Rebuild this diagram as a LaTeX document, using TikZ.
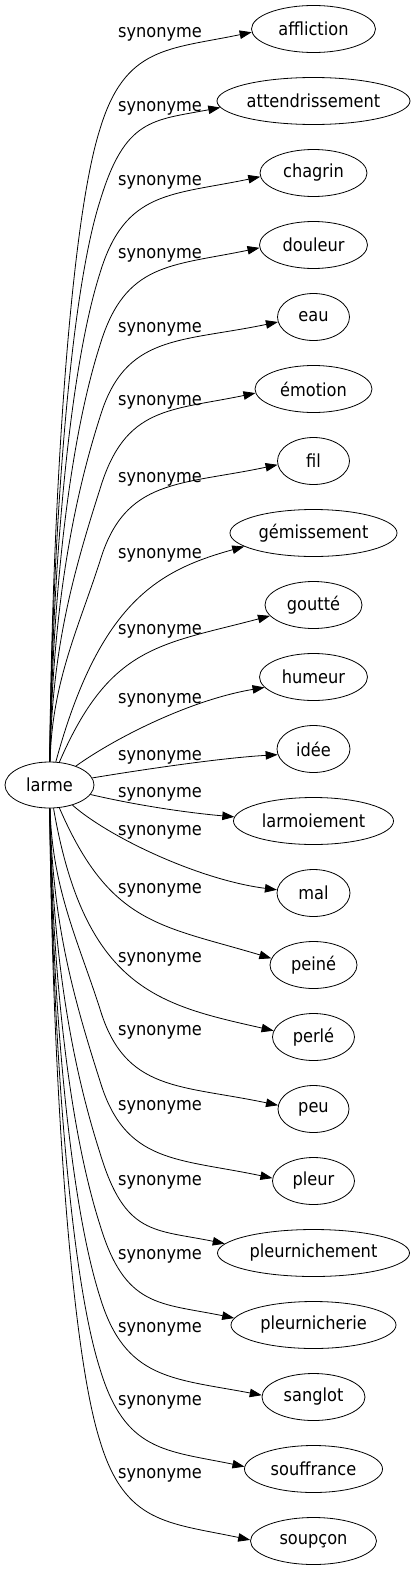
\documentclass[tikz,border=0pt]{standalone}
\usepackage{fontspec}
\setmainfont{DejaVu Sans}[FakeStretch=0.9]
\usetikzlibrary{shapes.geometric,arrows.meta}
\begin{document}
\begin{tikzpicture}[x=1pt,y=-1pt,
  word/.style={ellipse,draw,line width=0.8pt,inner sep=0pt,minimum height=47pt,font=\fontsize{18pt}{20pt}\selectfont},
  rel/.style={font=\fontsize{18pt}{20pt}\selectfont,anchor=base,inner sep=0pt},
  edge/.style={line width=0.8pt,-{Triangle[length=12pt,width=8.5pt]}}]
\useasboundingbox (0,0) rectangle (414,1571);
\node[word,minimum width=89pt,minimum height=46pt] (larme) at (49.5,785) {larme};
\foreach \n/\t/\y/\w in {affliction/affliction/29/124, attendrissement/attendrissement/101/193,
  chagrin/chagrin/173/107, douleur/douleur/245/108, eau/eau/317/72, emotion/émotion/389/117,
  fil/fil/461/72, gemissement/gémissement/533/167, goutte/goutté/605/97, humeur/humeur/677/108,
  idee/idée/749/73, larmoiement/larmoiement/821/160, mal/mal/893/73, peine/peiné/965/87,
  perle/perlé/1037/82, peu/peu/1109/71, pleur/pleur/1181/82, pleurnichement/pleurnichement/1253/192,
  pleurnicherie/pleurnicherie/1325/165, sanglot/sanglot/1397/103, souffrance/souffrance/1469/138,
  soupcon/soupçon/1541/126}
  \node[word,minimum width=\w pt] (\n) at (313.5,\y) {\t};
% labels
\foreach \k/\ly in {1/33,2/106,3/180,4/253,5/327,6/400,7/477,8/553,9/629,10/698,11/755,
  12/792,13/830,14/888,15/957,16/1030,17/1105,18/1180,19/1254,20/1327,21/1400,22/1473}
  \node[rel] (lab\k) at (160,\ly+5) {synonyme};
% upper far edges
\foreach \n/\y/\Ex/\Ey/\a in {affliction/29/252/32/183, attendrissement/101/217/107/184,
  chagrin/173/259/177/184, douleur/245/258/248/183, eau/317/277/322/188,
  emotion/389/255/393/184, fil/461/277/465/186} {
  \pgfmathsetmacro\Py{\y+100}
  \pgfmathsetmacro\L{762-\Py}
  \pgfmathsetmacro\be{min(100,0.35*\L)}
  \pgfmathsetmacro\Cax{100-0.305*\be}
  \pgfmathsetmacro\Cay{\Py+0.952*\be}
  \pgfmathsetmacro\Cby{762-0.4*\L}
  \pgfmathsetmacro\Dx{\Ex-0.55*(\Ex-100)}
  \pgfmathsetmacro\Dy{\Ey+0.21*0.55*(\Ex-100)}
  \draw[edge] (larme) .. controls (52,\Cby) and (\Cax,\Cay) .. (100,\Py)
    .. controls (125,\y+17) and (\Dx,\Dy) .. (\n.\a);
}
% lower far edges
\foreach \n/\y/\Ex/\Ey/\a in {peu/1109/277/1105/174,
  pleur/1181/272/1178/176, pleurnichement/1253/220/1243/174, pleurnicherie/1325/232/1318/175,
  sanglot/1397/262/1397/178, souffrance/1469/245/1467/178, soupcon/1541/251/1540/179} {
  \pgfmathsetmacro\Py{\y-100}
  \pgfmathsetmacro\L{\Py-808}
  \pgfmathsetmacro\be{min(100,0.35*\L)}
  \pgfmathsetmacro\Cax{100-0.305*\be}
  \pgfmathsetmacro\Cay{\Py-0.952*\be}
  \pgfmathsetmacro\Cby{808+0.4*\L}
  \pgfmathsetmacro\Dx{\Ex-0.55*(\Ex-100)}
  \pgfmathsetmacro\Dy{\Ey-0.21*0.55*(\Ex-100)}
  \draw[edge] (larme) .. controls (52,\Cby) and (\Cax,\Cay) .. (100,\Py)
    .. controls (125,\y-17) and (\Dx,\Dy) .. (\n.\a);
}
% near edges
\draw[edge] (larme) .. controls (100,600) and (160,570) .. (gemissement.191);
\draw[edge] (larme) .. controls (110,645) and (160,645) .. (goutte.194);
\draw[edge] (larme) .. controls (115,738) and (190,700) .. (humeur.192);
\draw[edge] (larme) .. controls (140,770) and (220,758) .. (idee.189);
\draw[edge] (larme) .. controls (140,806) and (190,813) .. (larmoiement.177);
\draw[edge] (larme) .. controls (110,838) and (200,880) .. (mal.175);
\draw[edge] (larme) .. controls (110,925) and (160,925) .. (peine.171);
\draw[edge] (larme) .. controls (85,990) and (160,1005) .. (perle.171);
\end{tikzpicture}
\end{document}
